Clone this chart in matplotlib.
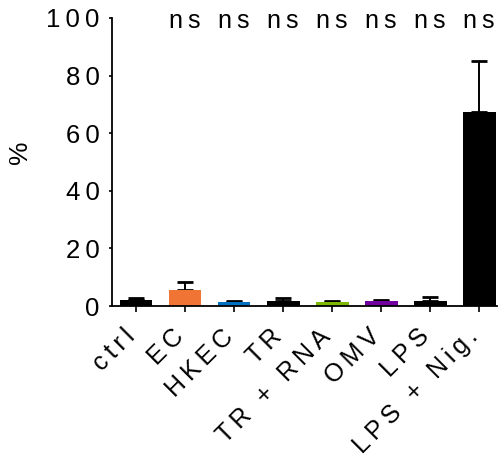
import matplotlib
matplotlib.use("Agg")
import matplotlib.pyplot as plt
import numpy as np

categories = ["ctrl", "EC", "HKEC", "TR", "TR + RNA", "OMV", "LPS", "LPS + Nig."]
means = [2.1, 5.5, 1.4, 1.7, 1.3, 1.7, 1.7, 67.2]
errors = [0.8, 2.7, 0.3, 1.1, 0.3, 0.4, 1.5, 18.0]
colors = ["#000000", "#F07535", "#0070C0", "#000000", "#7DB900", "#72009E", "#000000", "#000000"]
sig_labels = ["", "ns", "ns", "ns", "ns", "ns", "ns", "ns"]
yticks = [0, 20, 40, 60, 80, 100]

plt.rcParams['font.family'] = ['Liberation Sans', 'DejaVu Sans']

TS = "\u2009"


def spaced(s):
    return TS.join(s)


fig = plt.figure(figsize=(5.03, 4.59), dpi=100)
ax = fig.add_axes([0.2227, 0.3333, 0.766, 0.6275])

x = np.arange(len(categories))
ax.bar(x, means, width=0.67, color=colors, edgecolor='none', zorder=2)
ax.errorbar(x, means, yerr=[np.zeros(len(means)), errors], fmt='none',
            ecolor='black', elinewidth=1.4, capsize=6, capthick=2, zorder=1)

for xi, lab in zip(x, sig_labels):
    if lab:
        ax.text(xi, 99, spaced(lab), ha='center', va='center', fontsize=18)

ax.set_xlim(-0.49, 7.37)
ax.set_ylim(0, 100)
ax.set_yticks(yticks)
ax.set_yticklabels([spaced(str(t)) for t in yticks], fontsize=18.5)
ax.set_xticks(x)
ax.set_xticklabels([spaced(c) for c in categories],
                   rotation=45, ha='right', va='baseline', rotation_mode='anchor', fontsize=18)
ax.tick_params(axis='y', length=2.5, width=1.2, pad=6.5)
ax.tick_params(axis='x', length=4, width=1.2, pad=19)
ax.set_ylabel("%", fontsize=19)
ax.yaxis.set_label_coords(-0.208, 0.535)

for s in ['top', 'right']:
    ax.spines[s].set_visible(False)
for s in ['left', 'bottom']:
    ax.spines[s].set_linewidth(1.3)

fig.savefig("out.png", dpi=100)
